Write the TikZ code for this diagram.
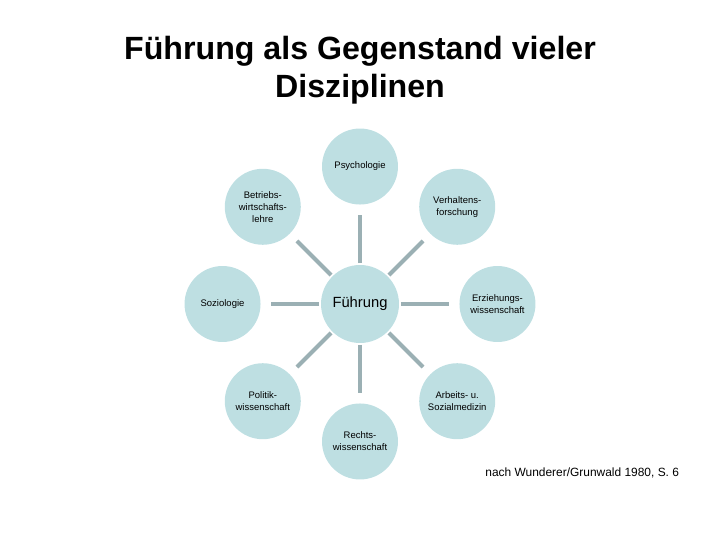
\documentclass[tikz,border=0pt]{standalone}
\usepackage{fontspec}
\setmainfont{Liberation Sans}
\usepackage{xcolor}
\usetikzlibrary{positioning}
\definecolor{kreis}{RGB}{190,223,226}
\definecolor{linie}{RGB}{155,176,180}

\begin{document}
\begin{tikzpicture}[x=0.02cm,y=-0.02cm,node distance=2.75cm,
    disz/.style={circle, fill=kreis, minimum size=1.52cm, inner sep=0pt, align=center,
                 font=\fontsize{5.4}{6.8}\selectfont},
    verb/.style={line width=2.3pt, draw=linie, shorten <=0.03cm, shorten >=0.2cm}]
            \useasboundingbox (0,0) rectangle (720,540);
            % Titel
            \node[anchor=north, inner sep=0pt, align=center, font=\bfseries\fontsize{18.3}{21.8}\selectfont] (titel) at (360,36) {Führung als Gegenstand vieler\\Disziplinen};

            % Mitte und Disziplinen im Kreis
            \node[disz, minimum size=1.56cm, font=\fontsize{8.4}{10}\selectfont] (0) at (360,304) {Führung};
            \node[disz, above of=0] (1) {Psychologie};
            \node[disz, above right of=0] (2) {Verhaltens-\\forschung};
            \node[disz, right of=0] (3) {Erziehungs-\\wissenschaft};
            \node[disz, below right of=0] (4) {Arbeits- u.\\Sozialmedizin};
            \node[disz, below of=0] (5) {Rechts-\\wissenschaft};
            \node[disz, below left of=0] (6) {Politik-\\wissenschaft};
            \node[disz, left of=0] (7) {Soziologie};
            \node[disz, above left of=0] (8) {Betriebs-\\wirtschafts-\\lehre};

            % Verbindungen
            \foreach \i in {1,...,8}
                \draw[verb] (0) -- (\i);

            % Quelle
            \node[anchor=base west, inner sep=0pt, font=\fontsize{6.8}{8}\selectfont] (quelle) at (485,476) {nach Wunderer/Grunwald 1980, S. 6};
        \end{tikzpicture}
\end{document}
